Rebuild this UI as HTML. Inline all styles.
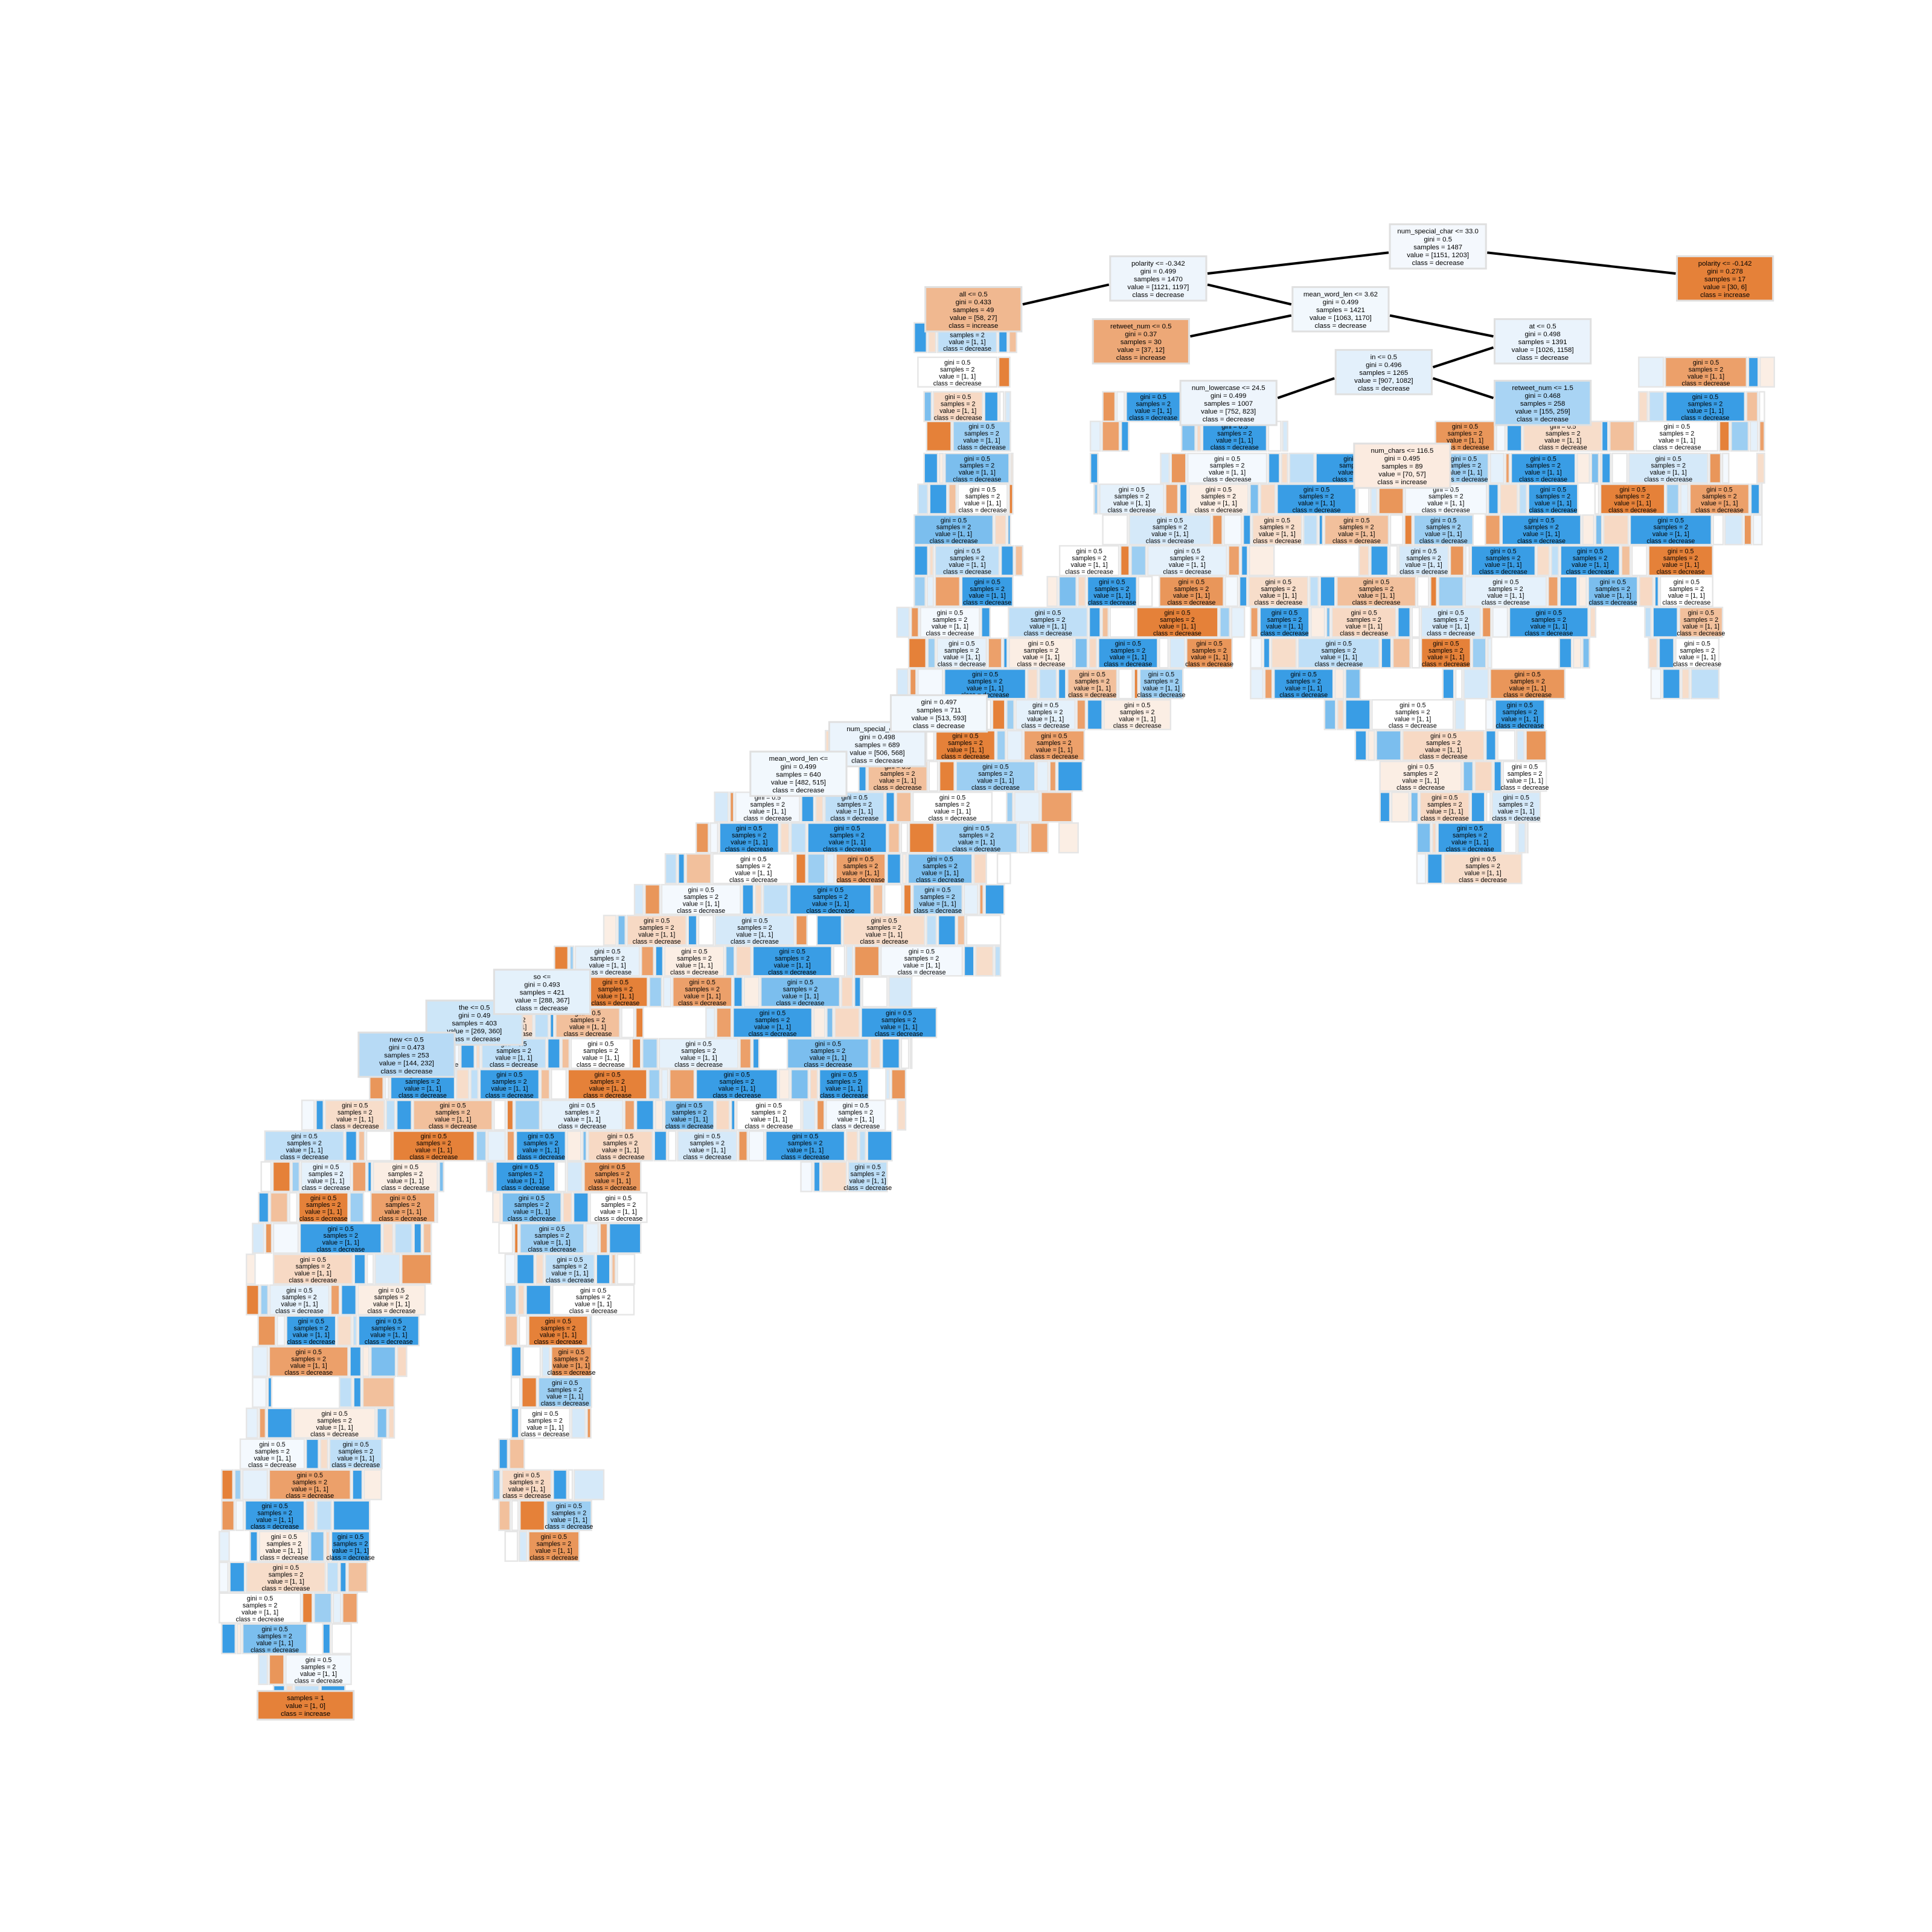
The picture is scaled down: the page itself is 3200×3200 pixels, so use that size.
<!DOCTYPE html>
<html><head><meta charset="utf-8"><style>
html,body{margin:0;padding:0;background:#fff;width:3200px;height:3200px;overflow:hidden}
svg{display:block}
text{font-family:"Liberation Sans","DejaVu Sans",sans-serif;font-size:5.6px;fill:#000}
.ft{font-size:5.2px}
</style></head><body>
<svg id="tree" width="3200" height="3200" viewBox="0 0 1568 1568" xmlns="http://www.w3.org/2000/svg">
<rect width="1568" height="1568" fill="#fff"/>
<g id="band"></g>
<g id="edges"></g>
<g id="nodes"></g>
</svg>
<script>
// Dense band rows: [top y, [[x0,x1],...]]
const bandRows = [
 [262,[[742,825]]],[290,[[745,822],[1330,1440]]],[318,[[750,820],[895,958],[1330,1432]]],
 [342,[[752,820],[885,1045],[1165,1305],[1300,1432]]],[368,[[750,822],[885,1300],[1300,1432]]],
 [393,[[745,822],[888,1430]]],[418,[[742,820],[895,1430]]],[443,[[742,830],[860,1390]]],
 [468,[[742,822],[850,1390]]],[493,[[728,1010],[1015,1295],[1335,1398]]],[518,[[728,1000],[1015,1290],[1338,1395]]],
 [543,[[728,960],[1015,1270],[1340,1395]]],[568,[[735,950],[1075,1255]]],[593,[[670,880],[1100,1255]]],
 [618,[[615,880],[1120,1255]]],[643,[[580,870],[1120,1250]]],[668,[[565,875],[1150,1240]]],[693,[[1150,1235]]],
 [693,[[540,820]]],[718,[[515,815]]],[743,[[490,812]]],[768,[[450,812]]],
 [793,[[415,740]]],[818,[[360,760]]],[843,[[300,740]]],[868,[[300,735]]],[893,[[245,735]]],
 [918,[[215,735]]],[943,[[212,360],[395,520],[650,720]]],[968,[[210,355],[400,525]]],[993,[[205,350],[405,520]]],
 [1018,[[200,350],[410,515]]],[1043,[[200,345],[410,515]]],[1068,[[200,340],[410,480]]],[1093,[[205,330],[415,480]]],[1118,[[205,320],[415,480]]],
 [1143,[[200,320],[415,480]]],[1168,[[195,310],[405,480]]],[1193,[[180,310],[400,490]]],[1218,[[180,300],[405,480]]],
 [1243,[[178,300],[410,470]]],[1268,[[178,298]]],[1293,[[178,290]]],[1318,[[180,285]]],
 [1343,[[210,285]]],[1368,[[222,280]]]
];
const widthPattern = [10,6,48,7,12,64,9,5,20,66,8,14,6,40,11,3,52];
const colorPattern = ["#399de5","#f7ddca","#bfdff7","#399de5","#f2c09c","#ffffff","#e58139","#9ccef2","#e5f1fb","#eca06a","#399de5","#fbeee4","#7bbeee","#f7d9c4","#399de5","#ffffff","#d5e9f9","#e9965a","#f4f9fe"];
const textLines = ["gini = 0.5","samples = 2","value = [1, 1]","class = decrease"];
// Labelled nodes
const nodeText = [
 ["num_special_char <= 33.0","gini = 0.5","samples = 1487","value = [1151, 1203]","class = decrease"],
 ["polarity <= -0.342","gini = 0.499","samples = 1470","value = [1121, 1197]","class = decrease"],
 ["polarity <= -0.142","gini = 0.278","samples = 17","value = [30, 6]","class = increase"],
 ["all <= 0.5","gini = 0.433","samples = 49","value = [58, 27]","class = increase"],
 ["mean_word_len <= 3.62","gini = 0.499","samples = 1421","value = [1063, 1170]","class = decrease"],
 ["retweet_num <= 0.5","gini = 0.37","samples = 30","value = [37, 12]","class = increase"],
 ["at <= 0.5","gini = 0.498","samples = 1391","value = [1026, 1158]","class = decrease"],
 ["in <= 0.5","gini = 0.496","samples = 1265","value = [907, 1082]","class = decrease"],
 ["num_lowercase <= 24.5","gini = 0.499","samples = 1007","value = [752, 823]","class = decrease"],
 ["retweet_num <= 1.5","gini = 0.468","samples = 258","value = [155, 259]","class = decrease"],
 ["num_special_char...","gini = 0.498","samples = 689","value = [506, 568]","class = decrease"],
 ["mean_word_len <=","gini = 0.499","samples = 640","value = [482, 515]","class = decrease"],
 ["the <= 0.5","gini = 0.49","samples = 403","value = [269, 360]","class = decrease"],
 ["new <= 0.5","gini = 0.473","samples = 253","value = [144, 232]","class = decrease"],
 ["so <=","gini = 0.493","samples = 421","value = [288, 367]","class = decrease"],
 ["num_chars <= 116.5","gini = 0.495","samples = 89","value = [70, 57]","class = increase"],
 ["gini = 0.497","samples = 711","value = [513, 593]","class = decrease"],
 ["samples = 1","value = [1, 0]","class = increase"]
];
const nodeColor = ["#f4f8fd","#eef5fc","#e58139","#f0b890","#f2f8fd","#eda877","#eaf3fc","#e3f0fb","#eef5fc","#a9d4f4","#ebf4fc","#f2f8fd","#cde6f8","#b7daf5","#e4f1fb","#fbebe0","#f2f8fd","#e58139"];
const nodeCenter = [[1167,200],[940,226],[1400,226],[790,251],[1088,251],[926,277],[1252,277],[1123,302],[997,327],[1252,327],[712,604],[648,628],[385,830],[330,856],[440,805],[1138,378],[762,579],[248,1384]];
const edgeList = [[0,1],[0,2],[1,3],[1,4],[4,5],[4,6],[6,7],[7,8],[7,9]];

const NS="http://www.w3.org/2000/svg";
const band=document.getElementById('band');
let k=0;
bandRows.forEach(r=>{
  const y=r[0];
  r[1].forEach(s=>{
    let x=s[0];
    while(x<s[1]){
      let w=Math.min(widthPattern[k%widthPattern.length],s[1]-x);
      if(k%23===7){x+=w+1.5;k++;continue;}
      const rc=document.createElementNS(NS,'rect');
      rc.setAttribute('x',x);rc.setAttribute('y',y);rc.setAttribute('width',w);rc.setAttribute('height',24);
      rc.setAttribute('fill',colorPattern[k%colorPattern.length]);rc.setAttribute('stroke','#e6e6e6');rc.setAttribute('stroke-width','1.2');
      
      
      band.appendChild(rc);
      if(w>=30){
        for(let j=0;j<4;j++){
          const tx=document.createElementNS(NS,'text');
          tx.setAttribute('class','ft');
          tx.setAttribute('x',x+w/2);tx.setAttribute('y',y+6+j*5.6);tx.setAttribute('text-anchor','middle');
          
          
          tx.textContent=textLines[j];band.appendChild(tx);
        }
      }
      x+=w+1.5;k++;
    }
  });
});
const edges=document.getElementById('edges');
edgeList.forEach(e=>{
  const a=nodeCenter[e[0]],b=nodeCenter[e[1]];
  const ln=document.createElementNS(NS,'line');
  const dx=b[0]-a[0];
  ln.setAttribute('x1',a[0]+(dx>0?40:-40));ln.setAttribute('y1',a[1]+5);
  ln.setAttribute('x2',b[0]+(dx>0?-40:40));ln.setAttribute('y2',b[1]-4);
  ln.setAttribute('stroke','#000');ln.setAttribute('stroke-width','2');
  
  
  edges.appendChild(ln);
});
const nodes=document.getElementById('nodes');
nodeText.forEach((lines,i)=>{
  const [cx,cy]=nodeCenter[i];
  const g=document.createElementNS(NS,'g');
  
  
  const w=78,h=lines.length*6.4+4;
  const rc=document.createElementNS(NS,'rect');
  rc.setAttribute('x',cx-w/2);rc.setAttribute('y',cy-h/2);rc.setAttribute('width',w);rc.setAttribute('height',h);
  rc.setAttribute('fill',nodeColor[i]);rc.setAttribute('stroke','#e0e0e0');rc.setAttribute('stroke-width','1.5');
  g.appendChild(rc);
  lines.forEach((t,j)=>{
    const tx=document.createElementNS(NS,'text');
    tx.setAttribute('x',cx);tx.setAttribute('y',cy-h/2+7.5+j*6.4);tx.setAttribute('text-anchor','middle');
    tx.textContent=t;g.appendChild(tx);
  });
  nodes.appendChild(g);
});
</script>
</body></html>
